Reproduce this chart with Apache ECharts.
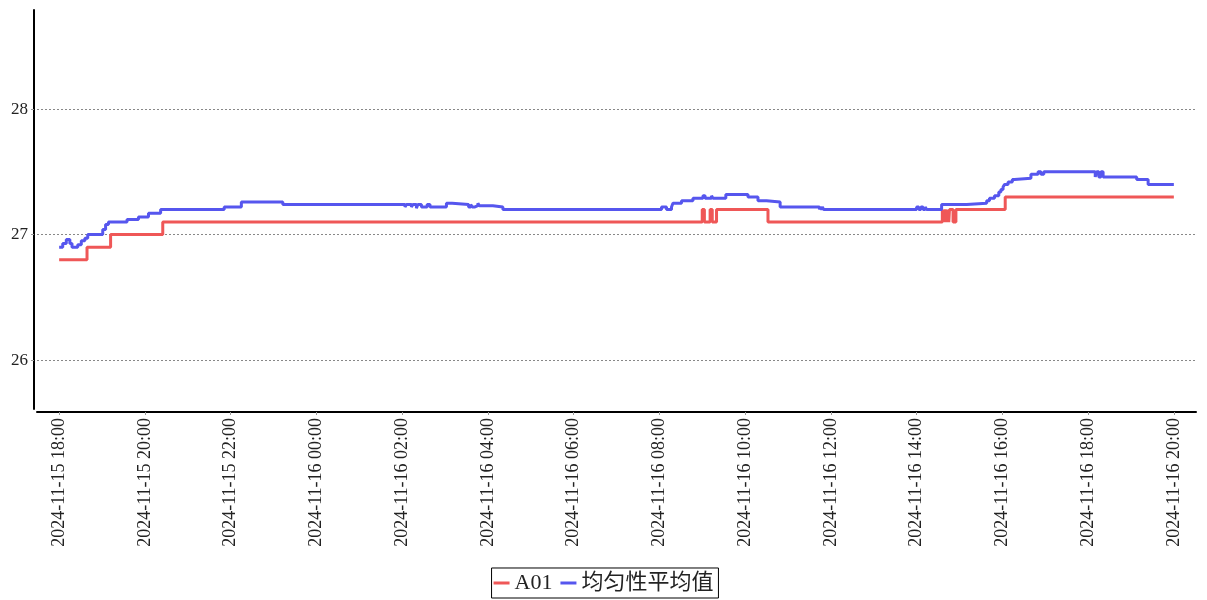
<!DOCTYPE html>
<html>
<head>
<meta charset="utf-8">
<script src="https://cdn.jsdelivr.net/npm/echarts@6/dist/echarts.min.js"></script>
<style>
html,body{margin:0;padding:0;background:#fff}
#c{width:1207px;height:600px}
</style>
</head>
<body>
<div id="c"></div>
<script>
const seriesNames = ['A01', '均匀性平均值'];

const a01Times = [
  '2024-11-15 18:00','2024-11-15 18:39','2024-11-15 19:12','2024-11-15 20:25',
  '2024-11-16 09:00','2024-11-16 09:03','2024-11-16 09:11','2024-11-16 09:14','2024-11-16 09:20',
  '2024-11-16 10:32','2024-11-16 14:36','2024-11-16 14:38','2024-11-16 14:40','2024-11-16 14:42',
  '2024-11-16 14:44','2024-11-16 14:45','2024-11-16 14:46','2024-11-16 14:51','2024-11-16 14:55',
  '2024-11-16 16:04','2024-11-16 20:00'
];
const a01Values = [
  26.8, 26.9, 27.0, 27.1,
  27.2, 27.1, 27.2, 27.1, 27.2,
  27.1, 27.2, 27.1, 27.2, 27.1,
  27.2, 27.1, 27.2, 27.1, 27.2,
  27.3, 27.3
];

const avgTimes = [
  '2024-11-15 18:00','2024-11-15 18:05','2024-11-15 18:10','2024-11-15 18:15','2024-11-15 18:18',
  '2024-11-15 18:26','2024-11-15 18:31','2024-11-15 18:36','2024-11-15 18:40','2024-11-15 19:01',
  '2024-11-15 19:05','2024-11-15 19:09','2024-11-15 19:35','2024-11-15 19:51','2024-11-15 20:05',
  '2024-11-15 20:22','2024-11-15 21:51','2024-11-15 22:15','2024-11-15 23:13',
  '2024-11-16 02:04','2024-11-16 02:06','2024-11-16 02:13','2024-11-16 02:15','2024-11-16 02:20',
  '2024-11-16 02:22','2024-11-16 02:27','2024-11-16 02:35','2024-11-16 02:39','2024-11-16 03:02',
  '2024-11-16 03:10','2024-11-16 03:33','2024-11-16 03:36','2024-11-16 03:38','2024-11-16 03:42',
  '2024-11-16 03:46','2024-11-16 03:48','2024-11-16 04:07','2024-11-16 04:21',
  '2024-11-16 08:03','2024-11-16 08:10','2024-11-16 08:17','2024-11-16 08:19','2024-11-16 08:31',
  '2024-11-16 08:47','2024-11-16 09:01','2024-11-16 09:04','2024-11-16 09:13','2024-11-16 09:15',
  '2024-11-16 09:33','2024-11-16 10:04','2024-11-16 10:18','2024-11-16 10:30','2024-11-16 10:49',
  '2024-11-16 11:44','2024-11-16 11:45','2024-11-16 11:47','2024-11-16 11:48','2024-11-16 11:50',
  '2024-11-16 14:00','2024-11-16 14:03','2024-11-16 14:06','2024-11-16 14:09','2024-11-16 14:12',
  '2024-11-16 14:14','2024-11-16 14:35','2024-11-16 15:10','2024-11-16 15:38','2024-11-16 15:42',
  '2024-11-16 15:49','2024-11-16 15:55','2024-11-16 15:58','2024-11-16 16:01','2024-11-16 16:03',
  '2024-11-16 16:08','2024-11-16 16:14','2024-11-16 16:17','2024-11-16 16:40','2024-11-16 16:50',
  '2024-11-16 16:54','2024-11-16 16:58','2024-11-16 18:10','2024-11-16 18:12','2024-11-16 18:15',
  '2024-11-16 18:18','2024-11-16 18:21','2024-11-16 19:08','2024-11-16 19:24','2024-11-16 20:00'
];
const avgValues = [
  26.90, 26.93, 26.96, 26.93, 26.90,
  26.92, 26.95, 26.97, 27.00, 27.04,
  27.08, 27.10, 27.12, 27.14, 27.17,
  27.20, 27.22, 27.26, 27.24,
  27.22, 27.24, 27.22, 27.24, 27.21,
  27.24, 27.22, 27.24, 27.22, 27.25,
  27.24, 27.22, 27.24, 27.22, 27.23,
  27.25, 27.23, 27.22, 27.20,
  27.22, 27.20, 27.22, 27.25, 27.27,
  27.29, 27.31, 27.29, 27.31, 27.29,
  27.32, 27.30, 27.27, 27.26, 27.22,
  27.20, 27.22, 27.20, 27.22, 27.20,
  27.22, 27.20, 27.22, 27.20, 27.22,
  27.20, 27.24, 27.25, 27.27, 27.29,
  27.31, 27.34, 27.36, 27.38, 27.40,
  27.42, 27.44, 27.45, 27.48, 27.50,
  27.48, 27.50, 27.46, 27.50, 27.46,
  27.50, 27.46, 27.44, 27.40, 27.40
];

const xMin = '2024-11-15 17:29';
const xMax = '2024-11-16 20:31';
const yMin = 25.61;
const yMax = 28.79;
const yTickValues = [26, 27, 28];

const pairs = (ts, vs) => ts.map((t, i) => [t, vs[i]]);
const serif = '"Liberation Serif", "Noto Sans CJK SC", serif';

const chart = echarts.init(document.getElementById('c'), null, { renderer: 'canvas' });
chart.setOption({
  animation: false,
  backgroundColor: '#ffffff',
  grid: { left: 37, right: 11, top: 10, bottom: 191, containLabel: false, outerBoundsMode: 'none' },
  legend: {
    data: seriesNames,
    bottom: 2,
    left: 'center',
    orient: 'horizontal',
    icon: 'rect',
    borderColor: '#000',
    borderWidth: 1,
    padding: [4, 5, 4, 2],
    itemWidth: 16,
    itemHeight: 3,
    itemGap: 8,
    textStyle: { fontSize: 22, fontFamily: serif, color: '#222' }
  },
  xAxis: {
    type: 'time',
    min: xMin,
    max: xMax,
    offset: 3,
    minInterval: 2.5 * 3600 * 1000,
    maxInterval: 2.5 * 3600 * 1000,
    axisLine: { show: true, lineStyle: { color: '#000', width: 2 } },
    axisTick: { show: true, length: 3, lineStyle: { color: '#999' } },
    axisLabel: {
      rotate: 90,
      margin: 6,
      formatter: '{yyyy}-{MM}-{dd} {HH}:{mm}',
      fontFamily: serif,
      fontSize: 18,
      color: '#222',
      showMinLabel: false,
      showMaxLabel: false,
      hideOverlap: false
    },
    splitLine: { show: false }
  },
  yAxis: {
    type: 'value',
    min: yMin,
    max: yMax,
    splitNumber: 3,
    offset: 3,
    axisLine: { show: true, lineStyle: { color: '#000', width: 2 } },
    axisTick: { show: true, length: 3, lineStyle: { color: '#999' }, customValues: yTickValues },
    axisLabel: {
      margin: 6,
      fontFamily: serif,
      fontSize: 17,
      color: '#222',
      customValues: yTickValues
    },
    splitLine: { show: true, lineStyle: { color: '#888', type: [2, 2], width: 1 } }
  },
  series: [
    {
      name: seriesNames[0],
      type: 'line',
      step: 'end',
      symbol: 'none',
      data: pairs(a01Times, a01Values),
      lineStyle: { color: '#ef5757', width: 3 },
      itemStyle: { color: '#ef5757' }
    },
    {
      name: seriesNames[1],
      type: 'line',
      step: 'end',
      symbol: 'none',
      data: pairs(avgTimes, avgValues),
      lineStyle: { color: '#5656ee', width: 3 },
      itemStyle: { color: '#5656ee' }
    }
  ]
});
</script>
</body>
</html>
